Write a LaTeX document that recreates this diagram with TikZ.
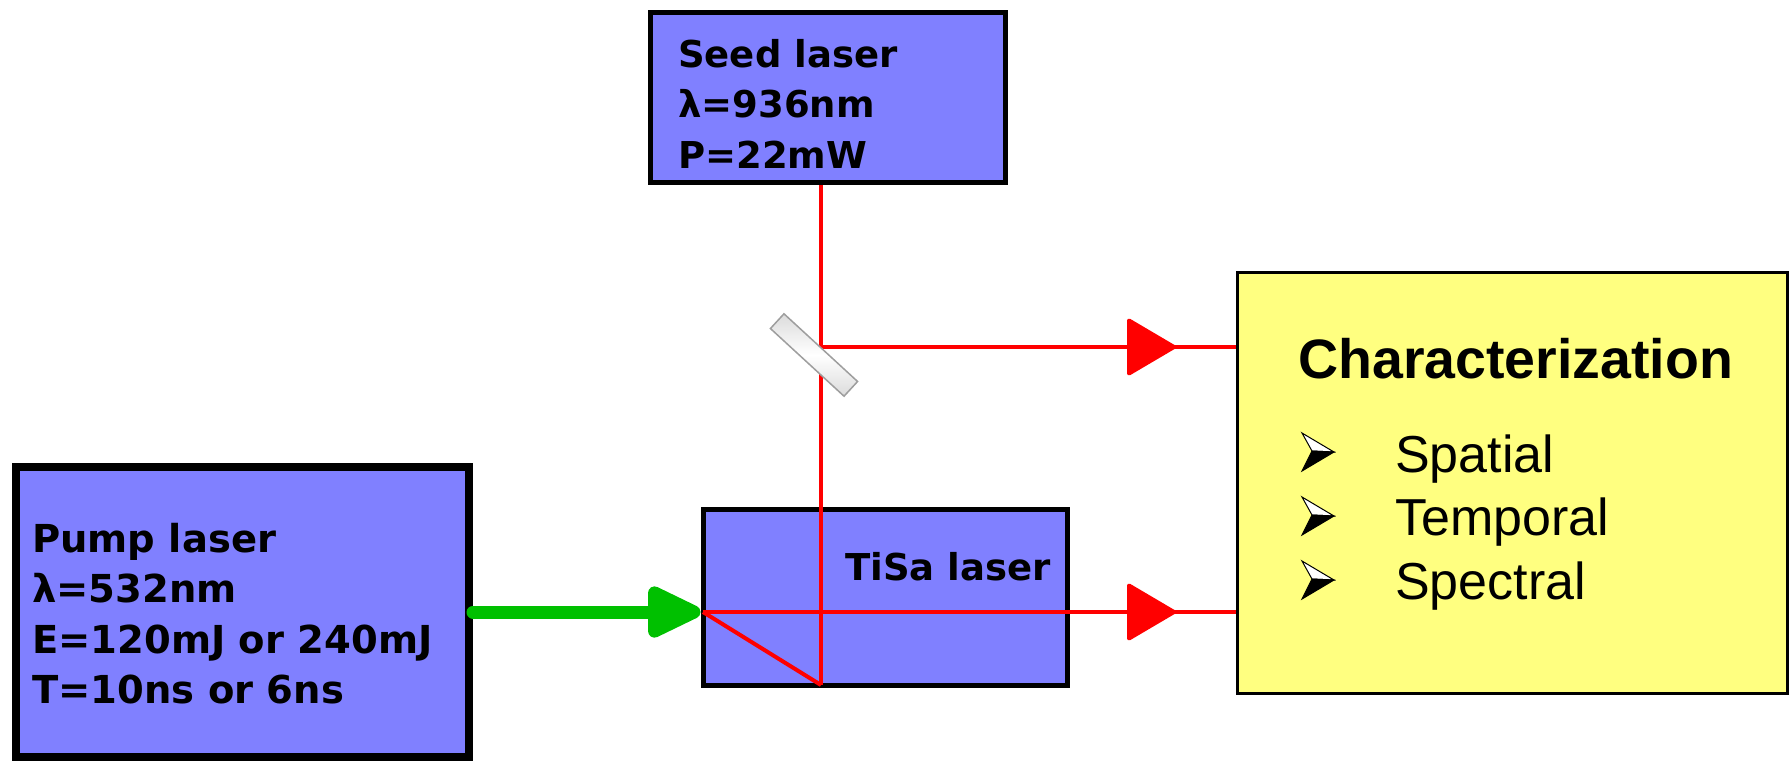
\documentclass[tikz,border=0pt]{standalone}
\usepackage{fontspec}
\setmainfont{DejaVu Sans}
\newfontfamily\arialfont{Liberation Sans}
\usetikzlibrary{arrows.meta,decorations.markings,calc}
\definecolor{boxblue}{HTML}{8080FF}
\definecolor{boxyellow}{HTML}{FFFF80}
\definecolor{beamred}{HTML}{FF0000}
\definecolor{beamgreen}{HTML}{00C000}
\tikzset{
  laserbox/.style={rectangle, draw=black, fill=boxblue, inner sep=0pt},
  charbox/.style={rectangle, draw=black, fill=boxyellow, line width=3pt, inner sep=0pt,
    minimum width=550pt, minimum height=421pt},
  boxtext/.style={anchor=north west, align=left, inner sep=0pt,
    font=\fontsize{37}{50.5}\selectfont\bfseries},
  redbeam/.style={color=beamred, line width=4pt},
  midarrow/.style={postaction=decorate, decoration={markings,
    mark=at position -60pt with {\arrow[color=beamred]{Triangle[length=51pt,width=59pt,round]}}}},
  greenbeam/.style={color=beamgreen, line width=13pt, line cap=round,
    -{Triangle[length=62pt,width=55pt,round]}},
  mirror/.style={rectangle, draw=black!38, line width=1.5pt, minimum width=100pt,
    minimum height=20pt, rotate=-42.6, inner sep=0pt,
    top color=black!14, bottom color=black!14, middle color=white},
  wingarrow/.pic={
    \filldraw[fill=white, draw=black, line width=1pt, line join=miter] (16,0) -- (-16,-19) -- (-6,-1) -- cycle;
    \filldraw[fill=black, draw=black, line width=1pt, line join=miter] (16,0) -- (-6,-1) -- (-16,19) -- cycle;
  },
  chartitle/.style={anchor=base west, inner sep=0pt, font=\arialfont\bfseries\fontsize{55.5}{60}\selectfont},
  charitem/.style={anchor=base west, inner sep=0pt, font=\arialfont\fontsize{52}{60}\selectfont},
}
\begin{document}
\begin{tikzpicture}[x=1pt,y=-1pt]
\path[use as bounding box, fill=white] (0,0) rectangle (1791,761);

% boxes
\node[laserbox, line width=5pt, minimum width=355pt, minimum height=170pt] (seed) at (828,97.5) {};
\node[laserbox, line width=8pt, minimum width=453pt, minimum height=290pt] (pump) at (242.5,612) {};
\node[laserbox, line width=5pt, minimum width=364pt, minimum height=176pt] (tisa) at (885,597.5) {};
\node[charbox] (char) at (1512.5,483) {};

% texts
\node[boxtext] (seedtxt) at (678,39) {Seed laser\\λ=936nm\\P=22mW};
\node[boxtext, font=\fontsize{38.5}{50.3}\selectfont\bfseries] (pumptxt) at (32,523)
  {Pump laser\\λ=532nm\\E=120mJ or 240mJ\\T=10ns or 6ns};
\node[anchor=base west, inner sep=0pt, font=\fontsize{37}{45}\selectfont\bfseries] (tisatxt) at (845,580) {TiSa laser};

% beam coordinates
\coordinate (m) at (821,347);
\coordinate (in) at (703,612);
\coordinate (b) at (821,685);

% red beams
\draw[redbeam] (seed.south -| m) -- (b);
\draw[redbeam, line join=round] (b) -- (in);
\draw[redbeam, midarrow] (in) -- (in -| char.west);
\draw[redbeam, midarrow] (m) -- (m -| char.west);

% green pump beam
\draw[greenbeam] (pump.east |- in) -- (tisa.west |- in);

% mirror
\node[mirror] (mir) at (814,355) {};

% characterization
\node[chartitle] (ctitle) at (1298,378) {Characterization};
\pic (b1) at (1318,452) {wingarrow};
\pic (b2) at (1318,516) {wingarrow};
\pic (b3) at (1318,580) {wingarrow};
\node[charitem] (it1) at (1395,472) {Spatial};
\node[charitem] (it2) at (1395,535) {Temporal};
\node[charitem] (it3) at (1395,599) {Spectral};
\end{tikzpicture}
\end{document}
